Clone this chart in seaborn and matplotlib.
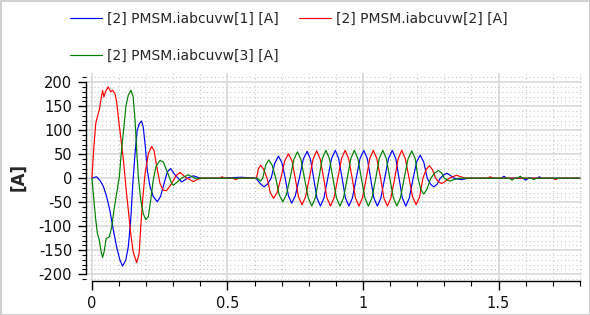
import matplotlib
matplotlib.use("Agg")
import matplotlib.pyplot as plt
import seaborn as sns
import numpy as np
from matplotlib.ticker import MultipleLocator, FuncFormatter

# ---------------- data ----------------
labels = ["[2] PMSM.iabcuvw[1] [A]", "[2] PMSM.iabcuvw[2] [A]", "[2] PMSM.iabcuvw[3] [A]"]
colors = ["#0000ff", "#ff0000", "#008000"]

t_blue = [0.0, 0.017, 0.030, 0.042, 0.054, 0.066, 0.079, 0.091, 0.103, 0.113, 0.125, 0.134,
          0.143, 0.150, 0.159, 0.167, 0.175, 0.183, 0.189, 0.197, 0.204, 0.214, 0.226, 0.241,
          0.253, 0.266, 0.278, 0.290, 0.305, 0.331, 0.352, 0.374, 0.40, 0.47, 0.55, 0.605,
          0.622, 0.635, 0.648, 0.661,
          0.675, 0.688, 0.701, 0.713,
          0.725, 0.737, 0.750, 0.765,
          0.780, 0.794, 0.806, 0.818,
          0.830, 0.843, 0.856, 0.870,
          0.884, 0.898, 0.910, 0.923,
          0.935, 0.948, 0.961, 0.975,
          0.989, 1.003, 1.016, 1.028,
          1.040, 1.053, 1.066, 1.080,
          1.094, 1.108, 1.121, 1.133,
          1.145, 1.158, 1.171, 1.185,
          1.198, 1.211, 1.224, 1.237,
          1.250, 1.261, 1.273, 1.285,
          1.298, 1.309, 1.320, 1.335, 1.362, 1.39,
          1.51, 1.52, 1.53, 1.59, 1.60, 1.61, 1.645, 1.65, 1.66, 1.80]
i_blue = [0, 3, -5, -17, -38, -67, -108, -143, -170, -183, -170, -143,
          -87, -17, 52, 100, 114, 119, 107, 65, 17, -17, -38, -49,
          -38, -11, 13, 20, 8, -8, 0, 5, 0, 0, 2, 0,
          -12, -18, -12, 0,
          32, 46, 32, 0,
          -37, -52, -37, 0,
          40, 56, 40, 0,
          -41, -58, -41, 0,
          41, 58, 41, 0,
          -41, -58, -41, 0,
          41, 58, 41, 0,
          -41, -58, -41, 0,
          41, 58, 41, 0,
          -41, -58, -41, 0,
          34, 48, 34, 0,
          -13, -18, -13, 0,
          7, 10, 7, 0, -3, 0,
          0, 4, 0, 0, -4, 0, 0, 3, 0, 0]

t_red = [0.0, 0.007, 0.014, 0.020, 0.027, 0.033, 0.039, 0.044, 0.050, 0.060, 0.069, 0.076,
         0.085, 0.091, 0.097, 0.106, 0.116, 0.125, 0.134, 0.143, 0.152, 0.165, 0.174, 0.180,
         0.187, 0.196, 0.208, 0.220, 0.229, 0.239, 0.251, 0.263, 0.275, 0.294, 0.310, 0.325,
         0.345, 0.374, 0.40, 0.47, 0.48, 0.49, 0.52, 0.53, 0.54, 0.607,
         0.614, 0.622, 0.633, 0.646,
         0.658, 0.670, 0.683, 0.697,
         0.711, 0.725, 0.738, 0.750,
         0.762, 0.775, 0.788, 0.802,
         0.816, 0.829, 0.842, 0.855,
         0.867, 0.880, 0.893, 0.907,
         0.921, 0.934, 0.947, 0.960,
         0.972, 0.985, 0.998, 1.012,
         1.025, 1.038, 1.051, 1.065,
         1.077, 1.090, 1.103, 1.117,
         1.130, 1.143, 1.156, 1.170,
         1.183, 1.196, 1.209, 1.221,
         1.233, 1.245, 1.256, 1.268,
         1.280, 1.290, 1.300, 1.318,
         1.335, 1.346, 1.360, 1.380,
         1.46, 1.47, 1.48, 1.70, 1.71, 1.72, 1.80]
i_red = [0, 65, 114, 128, 142, 163, 183, 169, 180, 190, 180, 183,
         176, 159, 128, 86, 38, -17, -66, -115, -153, -176, -157, -101,
         -45, 10, 51, 66, 58, 24, -11, -25, -26, -11, 5, 12,
         2, -7, 0, 0, 3, 0, 0, -3, 0, 0,
         19, 27, 19, 0,
         -30, -42, -30, 0,
         36, 51, 36, 0,
         -39, -55, -39, 0,
         40, 57, 40, 0,
         -41, -58, -41, 0,
         41, 58, 41, 0,
         -41, -58, -41, 0,
         41, 58, 41, 0,
         -41, -58, -41, 0,
         41, 58, 41, 0,
         -39, -55, -39, 0,
         18, 26, 18, 0,
         -8, -11, -8, 0,
         4, 6, 3, 0,
         0, 3, 0, 0, -3, 0, 0]

t_green = [0.0, 0.007, 0.014, 0.020, 0.027, 0.033, 0.039, 0.045, 0.052, 0.064, 0.073, 0.081,
           0.091, 0.101, 0.109, 0.118, 0.125, 0.134, 0.144, 0.152, 0.159, 0.165, 0.171, 0.180,
           0.189, 0.198, 0.208, 0.217, 0.226, 0.236, 0.251, 0.263, 0.278, 0.294, 0.300, 0.330,
           0.355, 0.380, 0.40, 0.610,
           0.622, 0.630,
           0.641, 0.652, 0.665, 0.678,
           0.691, 0.704, 0.717, 0.731,
           0.745, 0.758, 0.771, 0.784,
           0.798, 0.811, 0.824, 0.837,
           0.850, 0.863, 0.876, 0.889,
           0.902, 0.915, 0.928, 0.942,
           0.955, 0.968, 0.981, 0.994,
           1.007, 1.020, 1.033, 1.047,
           1.060, 1.073, 1.086, 1.099,
           1.112, 1.125, 1.138, 1.152,
           1.166, 1.180, 1.193, 1.203,
           1.213, 1.224, 1.236, 1.250,
           1.265, 1.278, 1.290, 1.300,
           1.312, 1.321, 1.335, 1.360,
           1.54, 1.55, 1.56, 1.57, 1.58, 1.59, 1.62, 1.63, 1.64, 1.80]
i_green = [0, -45, -87, -115, -129, -150, -165, -153, -126, -122, -101, -67,
           -32, 3, 58, 107, 149, 173, 183, 169, 121, 58, 3, -45,
           -73, -86, -80, -45, -4, 24, 37, 34, 13, -11, -15, 0,
           7, 0, 0, 0,
           -6, 0,
           27, 38, 27, 0,
           -35, -49, -35, 0,
           39, 55, 39, 0,
           -41, -58, -41, 0,
           41, 58, 41, 0,
           -41, -58, -41, 0,
           41, 58, 41, 0,
           -41, -58, -41, 0,
           41, 58, 41, 0,
           -41, -58, -41, 0,
           40, 57, 40, 0,
           -23, -33, -23, 0,
           11, 16, 11, 0,
           -4, -6, -3, 0,
           0, -4, 0, 0, 4, 0, 0, -3, 0, 0]

x_major_ticks = [0, 0.5, 1, 1.5]
y_major_ticks = [-200, -150, -100, -50, 0, 50, 100, 150, 200]
y_label = "[A]"

# ---------------- plotting ----------------
sns.set_theme(style="white")
plt.rcParams["font.family"] = ["DejaVu Sans"]
plt.rcParams["axes.unicode_minus"] = False

fig = plt.figure(figsize=(5.9, 3.15), dpi=100)
fig.patch.set_facecolor("white")
fig.patch.set_edgecolor("#d0d0d0")
fig.patch.set_linewidth(2)
ax = fig.add_axes([86 / 590, 1 - 281 / 315, (582 - 86) / 590, (281 - 73) / 315])

series = [(t_blue, i_blue), (t_red, i_red), (t_green, i_green)]
for (tt, vv), c, lab in zip(series, colors, labels):
    sns.lineplot(x=tt, y=vv, ax=ax, color=c, linewidth=0.85, label=lab, sort=False,
                 estimator=None)
ax.get_legend().remove()
lines = ax.get_lines()

ax.set_xlim(-0.022, 1.808)
ax.set_ylim(-214, 219)

ax.set_xticks(x_major_ticks)
ax.xaxis.set_minor_locator(MultipleLocator(0.1))
ax.set_yticks(y_major_ticks)
ax.yaxis.set_minor_locator(MultipleLocator(10))
ax.xaxis.set_major_formatter(FuncFormatter(lambda v, p: f"{v:g}"))
ax.yaxis.set_major_formatter(FuncFormatter(lambda v, p: f"{v:g}"))

ax.grid(which="major", color="#d9d9d9", linewidth=1.2, linestyle="-")
ax.grid(which="minor", color="#c8c8c8", linewidth=0.8, linestyle=(0, (1, 2.5)))
ax.set_axisbelow(True)

for s in ["top", "right"]:
    ax.spines[s].set_visible(False)
for s in ["left", "bottom"]:
    ax.spines[s].set_color("black")
    ax.spines[s].set_linewidth(1.0)
ax.spines["left"].set_bounds(-200, 200)
ax.spines["bottom"].set_bounds(0, 1.8)

ax.tick_params(which="major", direction="out", length=5.5, width=1, color="black",
               labelsize=10.5, labelcolor="#111111", bottom=True, left=True, pad=4.5)
ax.tick_params(which="minor", direction="out", length=3, width=0.8, color="black",
               bottom=True, left=True)
ax.tick_params(axis="x", which="major", length=6.5, pad=4.5)
ax.tick_params(axis="x", which="minor", length=3.5)

ax.set_xlabel("")
ax.set_ylabel(y_label, fontsize=12, fontweight="bold", labelpad=8)

fig.legend([lines[0], lines[2], lines[1]], [labels[0], labels[2], labels[1]],
           ncol=2, loc="upper left", bbox_to_anchor=(70 / 590, 1 - 12 / 315),
           frameon=False, fontsize=10, handlelength=2.3, handletextpad=0.36,
           columnspacing=1.45, labelspacing=1.62, borderpad=0, borderaxespad=0)

fig.savefig("out.png", dpi=100, facecolor="white", edgecolor=fig.get_edgecolor())
